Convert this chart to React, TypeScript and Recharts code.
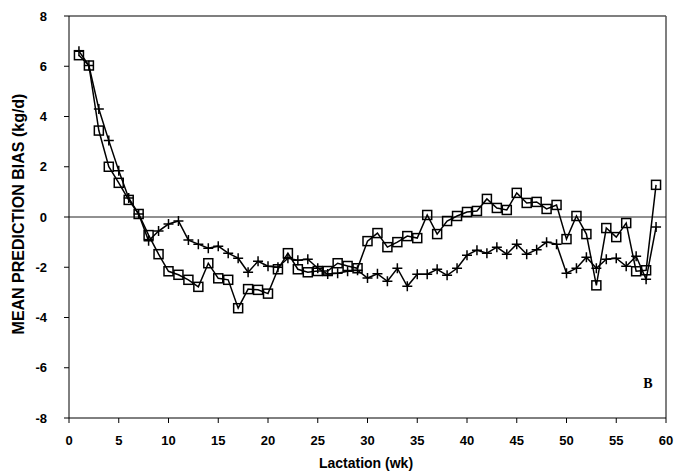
import React from "react";
import { LineChart, Line, XAxis, YAxis, ReferenceLine } from "recharts";

const weeks = [
  1, 2, 3, 4, 5, 6, 7, 8, 9, 10, 11, 12, 13, 14, 15, 16, 17, 18, 19, 20,
  21, 22, 23, 24, 25, 26, 27, 28, 29, 30, 31, 32, 33, 34, 35, 36, 37, 38, 39, 40,
  41, 42, 43, 44, 45, 46, 47, 48, 49, 50, 51, 52, 53, 54, 55, 56, 57, 58, 59,
];

const squareBias = [
  6.44, 6.03, 3.44, 2.0, 1.36, 0.68, 0.12, -0.72, -1.48, -2.16,
  -2.3, -2.5, -2.78, -1.84, -2.44, -2.5, -3.63, -2.87, -2.9, -3.05,
  -2.08, -1.44, -2.08, -2.2, -2.15, -2.15, -1.84, -1.95, -2.04, -0.96,
  -0.64, -1.2, -1.0, -0.76, -0.84, 0.08, -0.68, -0.16, 0.04, 0.2,
  0.24, 0.72, 0.36, 0.28, 0.96, 0.56, 0.6, 0.32, 0.48, -0.88,
  0.04, -0.68, -2.72, -0.44, -0.8, -0.24, -2.16, -2.12, 1.28,
];

const crossBias = [
  6.6, 6.03, 4.3, 3.04, 1.84, 0.76, 0.12, -0.95, -0.56, -0.28,
  -0.16, -0.92, -1.08, -1.24, -1.16, -1.44, -1.64, -2.2, -1.76, -1.96,
  -2.0, -1.64, -1.72, -1.68, -2.04, -2.27, -2.24, -2.16, -2.12, -2.43,
  -2.26, -2.56, -2.04, -2.76, -2.28, -2.28, -2.08, -2.32, -2.04, -1.52,
  -1.32, -1.44, -1.2, -1.48, -1.08, -1.48, -1.3, -1.0, -1.08, -2.24,
  -2.04, -1.6, -2.04, -1.68, -1.64, -1.96, -1.56, -2.48, -0.4,
];

const xTicks = [0, 5, 10, 15, 20, 25, 30, 35, 40, 45, 50, 55, 60];
const yTicks = [-8, -6, -4, -2, 0, 2, 4, 6, 8];

const data = weeks.map((w, i) => ({ week: w, sq: squareBias[i], cr: crossBias[i] }));

const renderSquare = (p: any) => (
  <rect
    key={`sq-${p.index}`}
    x={p.cx - 4.5}
    y={p.cy - 4.5}
    width={9}
    height={9}
    fill="none"
    stroke="#000"
    strokeWidth={1.5}
  />
);

const renderCross = (p: any) => (
  <path
    key={`cr-${p.index}`}
    d={`M${p.cx - 5},${p.cy}H${p.cx + 5}M${p.cx},${p.cy - 5}V${p.cy + 5}`}
    stroke="#000"
    strokeWidth={1.5}
    fill="none"
  />
);

const tickStyle = {
  fontFamily: "'Liberation Sans', Arial, sans-serif",
  fontWeight: 700,
  fontSize: 13,
  fill: "#000",
};

export default function App() {
  return (
    <div style={{ position: "absolute", left: 0, top: 0, width: 689, height: 475, background: "#fff" }}>
      <LineChart
        width={689}
        height={475}
        data={data}
        margin={{ top: 16, right: 23, bottom: 7, left: 10 }}
      >
        <XAxis
          dataKey="week"
          type="number"
          domain={[0, 60]}
          ticks={xTicks}
          interval={0}
          height={50}
          tickSize={5}
          tickMargin={13}
          stroke="#000"
          tick={tickStyle}
        />
        <YAxis
          type="number"
          domain={[-8, 8]}
          ticks={yTicks}
          interval={0}
          width={59}
          tickSize={5}
          tickMargin={17}
          stroke="#000"
          tick={tickStyle}
        />
        <ReferenceLine y={8} stroke="#555" strokeWidth={1.5} />
        <ReferenceLine x={60} stroke="#555" strokeWidth={1.5} />
        <ReferenceLine y={0} stroke="#222" strokeWidth={1} />
        <Line
          dataKey="cr"
          stroke="#000"
          strokeWidth={1.5}
          dot={renderCross}
          activeDot={false}
          isAnimationActive={false}
        />
        <Line
          dataKey="sq"
          stroke="#000"
          strokeWidth={1.5}
          dot={renderSquare}
          activeDot={false}
          isAnimationActive={false}
        />
        <text
          x={18}
          y={214}
          transform="rotate(-90 18 214)"
          textAnchor="middle"
          dominantBaseline="central"
          style={{ fontFamily: "'Liberation Sans', Arial, sans-serif", fontWeight: 700, fontSize: 16 }}
          fill="#000"
        >
          MEAN PREDICTION BIAS (kg/d)
        </text>
        <text
          x={366}
          y={468}
          textAnchor="middle"
          style={{ fontFamily: "'Liberation Sans', Arial, sans-serif", fontWeight: 700, fontSize: 14 }}
          fill="#000"
        >
          Lactation (wk)
        </text>
        <text
          x={648}
          y={388}
          textAnchor="middle"
          style={{ fontFamily: "'Liberation Serif', serif", fontWeight: 700, fontSize: 14 }}
          fill="#000"
        >
          B
        </text>
      </LineChart>
    </div>
  );
}
